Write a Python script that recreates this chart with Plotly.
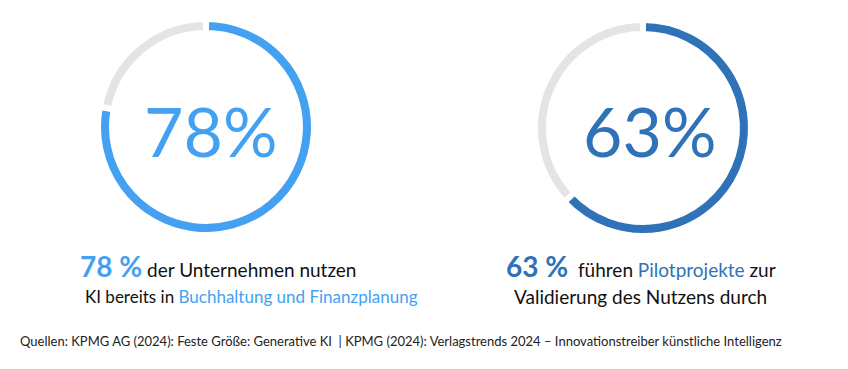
import plotly.graph_objects as go

labels = ["Anteil", "Rest"]
values_left = [78, 22]
values_right = [63, 37]
center_left = "78%"
center_right = "63%"

blue_light = "#44a1f1"
blue_dark = "#2f72b7"
gray = "#e4e4e4"
W, H = 848, 369
OX, OY = 8, 8  # default page body margin offset

def px(x):
    return (x - OX) / W

def py(y):
    return 1 - (y - OY) / H

def dom(cx, cy, r):
    return dict(x=[px(cx - r), px(cx + r)], y=[py(cy + r), py(cy - r)])

fig = go.Figure()
for vals, col, cx, cy in [(values_left, blue_light, 206, 127), (values_right, blue_dark, 643, 128)]:
    fig.add_trace(go.Pie(
        labels=labels, values=vals, sort=False, direction="clockwise", rotation=0,
        hole=0.87, textinfo="none", hoverinfo="skip", showlegend=False,
        marker=dict(colors=[col, gray], line=dict(color="white", width=6)),
        domain=dom(cx, cy, 108),
    ))

font = "Lato, 'Open Sans', sans-serif"
ann = []
def add(x, y, text, size, color="#111111", xanchor="center", weight=None):
    f = dict(size=size, color=color, family=font)
    if weight:
        f["weight"] = weight
    ann.append(dict(x=px(x), y=py(y), xref="paper", yref="paper", xanchor=xanchor,
                    yanchor="middle", text=text, showarrow=False, font=f))

add(210, 130, center_left, 68, blue_light, weight=400)
add(649, 130, center_right, 68, blue_dark, weight=400)

add(78, 266, f"<span style='font-size:28px;color:{blue_light}'><b>78 %</b></span> der Unternehmen nutzen",
    19, xanchor="left")
add(83, 296, f"KI bereits in <span style='color:{blue_light}'>Buchhaltung und Finanzplanung</span>",
    17, xanchor="left")
add(641, 266, f"<span style='font-size:28px;color:{blue_dark}'><b>63 %</b></span>  führen <span style='color:{blue_dark}'>Pilotprojekte</span> zur",
    19)
add(640, 296, "Validierung des Nutzens durch", 19)
add(18, 341, "Quellen: KPMG AG (2024): Feste Größe: Generative KI  | KPMG (2024): Verlagstrends 2024 – Innovationstreiber künstliche Intelligenz",
    13, "#222222", xanchor="left")

fig.update_layout(width=W, height=H, margin=dict(l=0, r=0, t=0, b=0),
                  paper_bgcolor="white", plot_bgcolor="white", annotations=ann)
fig.write_html("out.html")
